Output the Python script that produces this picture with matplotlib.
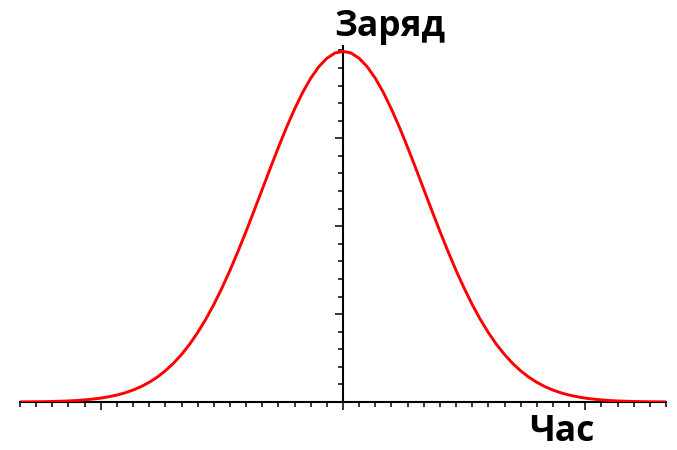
import numpy as np
import matplotlib.pyplot as plt
from matplotlib.ticker import FixedLocator

# curve (symmetric bell), right half mirrored
x_half = [0.0, 0.1, 0.2, 0.3, 0.4, 0.5, 0.6, 0.7, 0.8, 0.9, 1.0,
          1.1, 1.2, 1.3, 1.4, 1.5, 1.6, 1.7, 1.8, 1.9, 2.0,
          2.1, 2.2, 2.3, 2.4, 2.5, 2.6, 2.7, 2.8, 2.9, 3.0,
          3.1, 3.2, 3.3, 3.4, 3.5, 3.6, 3.7, 3.8, 3.9, 4.0]
y_half = [0.3989, 0.3970, 0.3910, 0.3814, 0.3683, 0.3521, 0.3332, 0.3123, 0.2897, 0.2661, 0.2420,
          0.2179, 0.1942, 0.1714, 0.1497, 0.1295, 0.1109, 0.0940, 0.0790, 0.0656, 0.0540,
          0.0440, 0.0355, 0.0283, 0.0224, 0.0175, 0.0136, 0.0104, 0.0079, 0.0060, 0.0044,
          0.0033, 0.0024, 0.0017, 0.0012, 0.0009, 0.0006, 0.0004, 0.0003, 0.0002, 0.0001]
x = [-v for v in x_half[:0:-1]] + x_half
y = y_half[:0:-1] + y_half

x_major = [-3, 0, 3]
x_minor = [round(-4 + 0.2 * i, 1) for i in range(41)]
y_major = [0.1, 0.2, 0.3]
y_minor = [round(0.02 * i, 2) for i in range(1, 21)]

y_label = 'Заряд'
x_label = 'Час'

W, H = 677, 450
fig = plt.figure(figsize=(W / 100, H / 100), dpi=100)
ax = fig.add_axes([20 / W, 48 / H, 646 / W, 356 / H])

ax.plot(x, y, color='#ff0000', lw=2.1, zorder=3)
ax.set_xlim(-4, 4)
ax.set_ylim(0, 0.405)

for s in ['top', 'right']:
    ax.spines[s].set_visible(False)
ax.spines['left'].set_position(('data', 0))
ax.spines['bottom'].set_position(('data', 0))
ax.spines['left'].set_linewidth(1.5)
ax.spines['bottom'].set_linewidth(1.5)

ax.xaxis.set_major_locator(FixedLocator(x_major))
ax.xaxis.set_minor_locator(FixedLocator([v for v in x_minor if v not in x_major]))
ax.yaxis.set_major_locator(FixedLocator(y_major))
ax.yaxis.set_minor_locator(FixedLocator([v for v in y_minor if v not in y_major]))
ax.tick_params(which='major', direction='out', length=6, width=1.1,
               labelbottom=False, labelleft=False)
ax.tick_params(which='minor', direction='out', length=3.3, width=1.1)

fig.text(390 / W, 1 - 36 / H, y_label, ha='center', va='baseline',
         fontsize=25.5, fontweight='bold', family='Open Sans')
fig.text(562 / W, 1 - 441 / H, x_label, ha='center', va='baseline',
         fontsize=25.5, fontweight='bold', family='Open Sans')

fig.savefig('out.png', dpi=100)
